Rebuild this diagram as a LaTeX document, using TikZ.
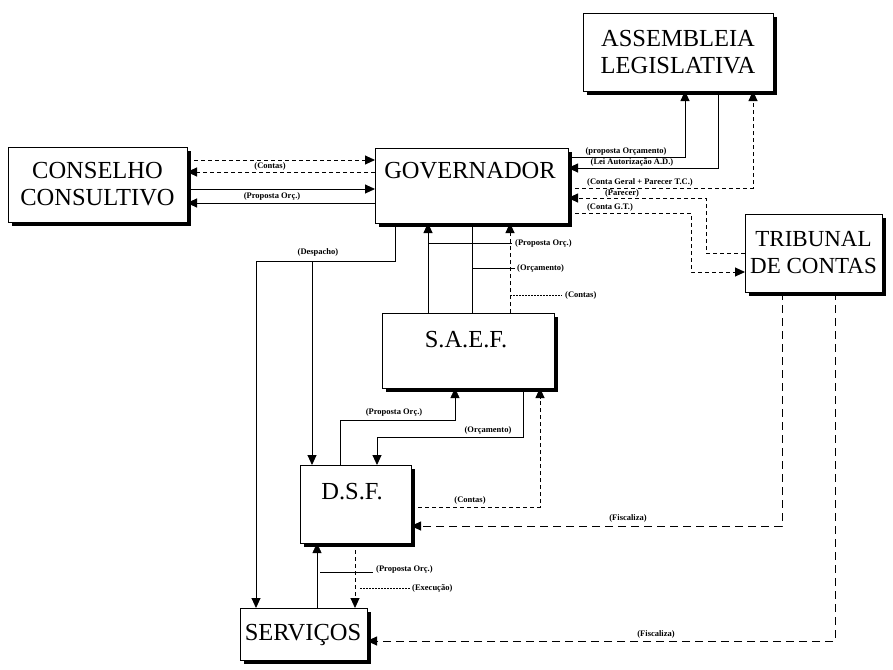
\documentclass[tikz,border=0pt]{standalone}
\usepackage{fontspec}
\setmainfont{Liberation Serif}
\usetikzlibrary{shadows,arrows.meta}
\begin{document}
\begin{tikzpicture}[x=1pt,y=-1pt,
  box/.style={draw,line width=0.8pt,fill=white,inner sep=0pt,outer sep=0pt,anchor=north west,
    general shadow={fill=black,shadow xshift=4pt,shadow yshift=-4pt}},
  btext/.style={font=\fontsize{24.5}{27}\selectfont,align=center,inner sep=0pt},
  lab/.style={font=\fontsize{8.5}{9}\selectfont\bfseries,inner sep=1pt},
  ln/.style={line width=0.9pt},
  thin/.style={line width=0.5pt},
  arr/.style={-{Triangle[length=10pt,width=9pt]}},
  dsh/.style={dash pattern=on 4pt off 3pt},
  ldsh/.style={dash pattern=on 8pt off 5pt},
  dot/.style={dash pattern=on 1.5pt off 1.5pt}]
\useasboundingbox (0,0) rectangle (893,669);
% boxes
\node[box,minimum width=190pt,minimum height=78pt] (asm) at (583,13) {};
\node[btext] (asmt) at (678,52) {ASSEMBLEIA\\LEGISLATIVA};
\node[box,minimum width=179pt,minimum height=75pt] (con) at (8,147) {};
\node[btext] (cont) at (97.5,184.5) {CONSELHO\\CONSULTIVO};
\node[box,minimum width=193pt,minimum height=75pt] (gov) at (375,148) {};
\node[btext] (govt) at (470,171) {GOVERNADOR};
\node[box,minimum width=137pt,minimum height=78pt] (tri) at (745,214) {};
\node[btext,font=\fontsize{23}{27}\selectfont] (trit) at (813.5,253) {TRIBUNAL\\DE CONTAS};
\node[box,minimum width=172pt,minimum height=75pt] (saef) at (382,313) {};
\node[btext] (saeft) at (466,340) {S.A.E.F.};
\node[box,minimum width=111pt,minimum height=78pt] (dsf) at (300,465) {};
\node[btext] (dsft) at (352,492) {D.S.F.};
\node[box,minimum width=127pt,minimum height=52pt] (srv) at (240,608) {};
\node[btext] (srvt) at (303,635) {SERVIÇOS};
% Conselho <-> Governador
\draw[ln,dsh,arr] (con.east |- 0,160) -- (gov.west |- 0,160);
\draw[ln,dsh,arr] (gov.west |- 0,172) -- (con.east |- 0,172);
\node[lab] (l1) at (270,166) {(Contas)};
\draw[ln,arr] (con.east |- 0,189) -- (gov.west |- 0,189);
\draw[ln,arr] (gov.west |- 0,203) -- (con.east |- 0,203);
\node[lab] (l2) at (272,196) {(Proposta Orç.)};
% Governador <-> Assembleia
\draw[ln,arr] (gov.east |- 0,157) -| (asm.south -| 685,0);
\node[lab] (l3) at (626,151) {(proposta Orçamento)};
\draw[ln,arr] (asm.south -| 718,0) |- (gov.east |- 0,168);
\node[lab] (l4) at (632,162) {(Lei Autorização A.D.)};
\draw[ln,dsh,arr] (gov.east |- 0,188) -| (asm.south -| 753,0);
\node[lab] (l5) at (640,182) {(Conta Geral + Parecer T.C.)};
% Governador <-> Tribunal
\draw[ln,dsh,arr] (tri.west |- 0,253) -| (706,198) -- (gov.east |- 0,198);
\node[lab] (l6) at (622,193) {(Parecer)};
\draw[ln,dsh,arr] (gov.east |- 0,213) -| (691,272) -- (tri.west |- 0,272);
\node[lab] (l7) at (610,207) {(Conta G.T.)};
% S.A.E.F. <-> Governador
\draw[ln,arr] (saef.north -| 428,0) -- (gov.south -| 428,0);
\draw[thin] (428,243) -- (512,243);
\node[lab,anchor=west] (l8) at (514,243) {(Proposta Orç.)};
\draw[thin] (gov.south -| 472,0) -- (saef.north -| 472,0);
\draw[thin] (472,268) -- (515,268);
\node[lab,anchor=west] (l9) at (516,268) {(Orçamento)};
\draw[ln,dsh,arr] (saef.north -| 510,0) -- (gov.south -| 510,0);
\draw[thin,dot] (510,295) -- (562,295);
\node[lab,anchor=west] (l10) at (564,295) {(Contas)};
% Despacho
\draw[ln,arr] (gov.south -| 395,0) |- (256,261) -- (srv.north -| 256,0);
\draw[ln,arr] (312,261) -- (dsf.north -| 312,0);
\node[lab] (l11) at (318,252) {(Despacho)};
% D.S.F. <-> S.A.E.F.
\draw[thin,arr] (dsf.north -| 340,0) |- (455,420) -- (saef.south -| 455,0);
\node[lab] (l12) at (394,412) {(Proposta Orç.)};
\draw[ln,arr] (saef.south -| 523,0) |- (377,437) -- (dsf.north -| 377,0);
\node[lab] (l13) at (488,430) {(Orçamento)};
\draw[ln,dsh,arr] (dsf.east |- 0,507) -| (saef.south -| 540,0);
\node[lab] (l14) at (470,500) {(Contas)};
% Tribunal fiscaliza
\draw[ln,ldsh,arr] (tri.south -| 782,0) |- (dsf.east |- 0,526);
\node[lab] (l15) at (628,518) {(Fiscaliza)};
\draw[ln,ldsh,arr] (tri.south -| 835,0) |- (srv.east |- 0,641);
\node[lab] (l16) at (656,634) {(Fiscaliza)};
% D.S.F. <-> Serviços
\draw[thin,arr] (srv.north -| 317,0) -- (dsf.south -| 317,0);
\draw[thin] (320,572) -- (373,572);
\node[lab,anchor=west] (l17) at (375,569) {(Proposta Orç.)};
\draw[ln,dsh,arr] (dsf.south -| 355,0) -- (srv.north -| 355,0);
\draw[thin,dot] (360,588) -- (410,588);
\node[lab,anchor=west] (l18) at (411,588) {(Execução)};
\end{tikzpicture}
\end{document}
